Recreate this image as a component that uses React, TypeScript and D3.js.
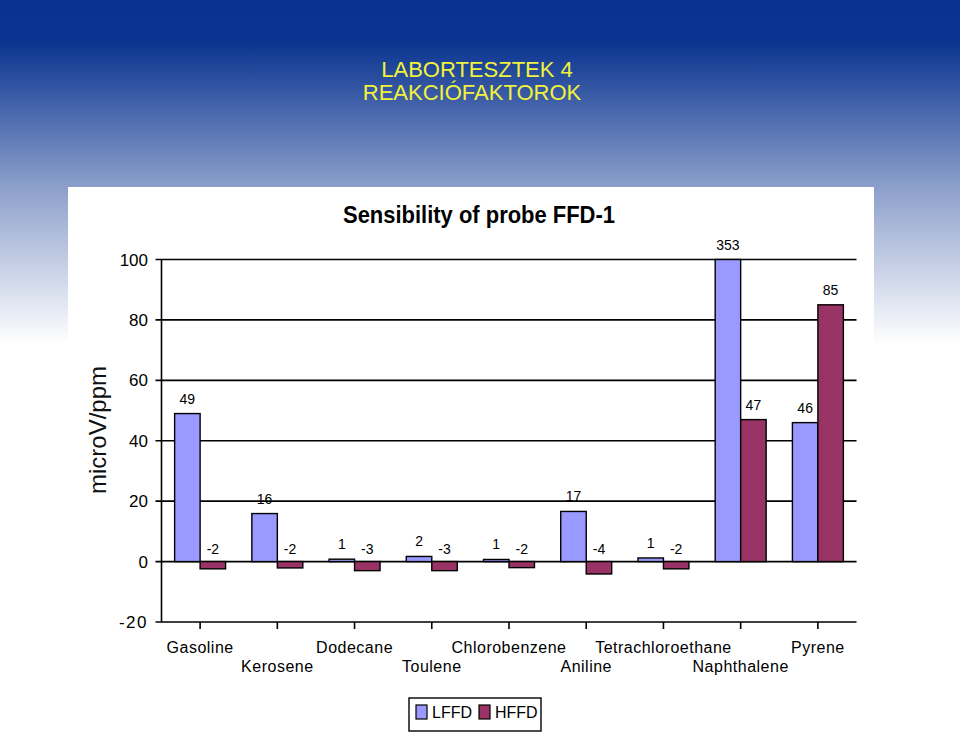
import React from "react";
import * as d3 from "d3";

// chart values
const categories = [
  "Gasoline", "Kerosene", "Dodecane", "Toulene", "Chlorobenzene",
  "Aniline", "Tetrachloroethane", "Naphthalene", "Pyrene",
];
const lffd = [49, 15.9, 0.8, 1.7, 0.7, 16.6, 1.2, 353, 46];
const hffd = [-2.4, -2.1, -3.0, -3.0, -2.0, -4.1, -2.4, 47, 85];
const seriesNames = ["LFFD", "HFFD"];
const seriesColors = ["#9999ff", "#993366"];
const yTicks = [-20, 0, 20, 40, 60, 80, 100];

const W = 960;
const H = 732;
const FONT = "'Liberation Sans', Arial, sans-serif";

const App = () => {
  const left = 161.5;
  const right = 856.5;
  const top = 259.5;
  const bottom = 622;

  const y = d3.scaleLinear().domain([-20, 100]).range([bottom, top]);
  const x = d3.scaleBand<string>().domain(categories).range([left, right]);
  const barW = x.bandwidth() * 0.33;
  const fmt = (v: number) => String(Math.round(v));

  const series = [lffd, hffd];

  return (
    <svg width={W} height={H} style={{ position: "absolute", left: 0, top: 0 }} fontFamily={FONT}>
      <defs>
        <linearGradient id="bg" x1="0" y1="0" x2="0" y2={H} gradientUnits="userSpaceOnUse">
          <stop offset="0" stopColor="#08328e" />
          <stop offset={0.06} stopColor="#0b3590" />
          <stop offset={0.255} stopColor="#8c9fcb" />
          <stop offset={0.47} stopColor="#ffffff" />
          <stop offset="1" stopColor="#ffffff" />
        </linearGradient>
      </defs>
      <rect x={0} y={0} width={W} height={H} fill="url(#bg)" />

      <text x={477} y={77} textAnchor="middle" fill="#f2f23a" fontSize={22}>LABORTESZTEK 4</text>
      <text x={472} y={100} textAnchor="middle" fill="#f2f23a" fontSize={22}>REAKCIÓFAKTOROK</text>

      <rect x={68} y={187} width={806} height={H - 187} fill="#ffffff" />

      <text x={479} y={223} textAnchor="middle" fontSize={24} fontWeight="bold"
        textLength={272} lengthAdjust="spacingAndGlyphs">
        Sensibility of probe FFD-1
      </text>

      <text transform={`translate(106,430) rotate(-90)`} textAnchor="middle" fontSize={24} fill="#111">
        microV/ppm
      </text>

      {/* gridlines and y axis labels */}
      {yTicks.map((t) => (
        <g key={t}>
          <line x1={left - 6} x2={right} y1={y(t)} y2={y(t)} stroke="#000" strokeWidth={1.6} />
          <text x={148} y={y(t) + 6} textAnchor="end" fontSize={17}
            letterSpacing={t < 0 ? 1.5 : 0}>{t}</text>
        </g>
      ))}
      <line x1={left} x2={left} y1={top} y2={bottom} stroke="#000" strokeWidth={1.6} />

      {/* category ticks and labels */}
      {categories.map((c, i) => {
        const cx = x(c)! + x.bandwidth() / 2;
        return (
          <g key={c}>
            <line x1={cx} x2={cx} y1={bottom} y2={bottom + 7} stroke="#000" strokeWidth={1.6} />
            <text x={cx} y={i % 2 === 0 ? 653 : 672} textAnchor="middle" fontSize={16}
              letterSpacing={0.5}>{c}</text>
          </g>
        );
      })}

      {/* bars */}
      {series.map((vals, s) =>
        vals.map((v, i) => {
          const bx = x(categories[i])! + x.bandwidth() / 2 - barW + s * barW;
          const clipped = Math.min(v, 100);
          const y0 = y(0);
          const y1 = y(clipped);
          return (
            <rect key={`${s}-${i}`} x={bx} y={Math.min(y0, y1)} width={barW}
              height={Math.abs(y1 - y0)} fill={seriesColors[s]} stroke="#000" strokeWidth={1.4} />
          );
        })
      )}

      {/* data labels */}
      {series.map((vals, s) =>
        vals.map((v, i) => {
          const bx = x(categories[i])! + x.bandwidth() / 2 - barW + s * barW + barW / 2;
          const ly = v >= 0 ? y(Math.min(v, 100)) - 10 : y(0) - 8;
          return (
            <text key={`l${s}-${i}`} x={bx} y={ly} textAnchor="middle" fontSize={14}>{fmt(v)}</text>
          );
        })
      )}

      {/* legend */}
      <rect x={409} y={698} width={132} height={33} fill="#fff" stroke="#000" strokeWidth={1.4} />
      {seriesNames.map((n, s) => (
        <g key={n} transform={`translate(${416 + s * 63},705)`}>
          <rect x={0} y={0} width={11} height={14} fill={seriesColors[s]} stroke="#000" strokeWidth={1.2} />
          <text x={16} y={13} fontSize={16}>{n}</text>
        </g>
      ))}
    </svg>
  );
};

export default App;
